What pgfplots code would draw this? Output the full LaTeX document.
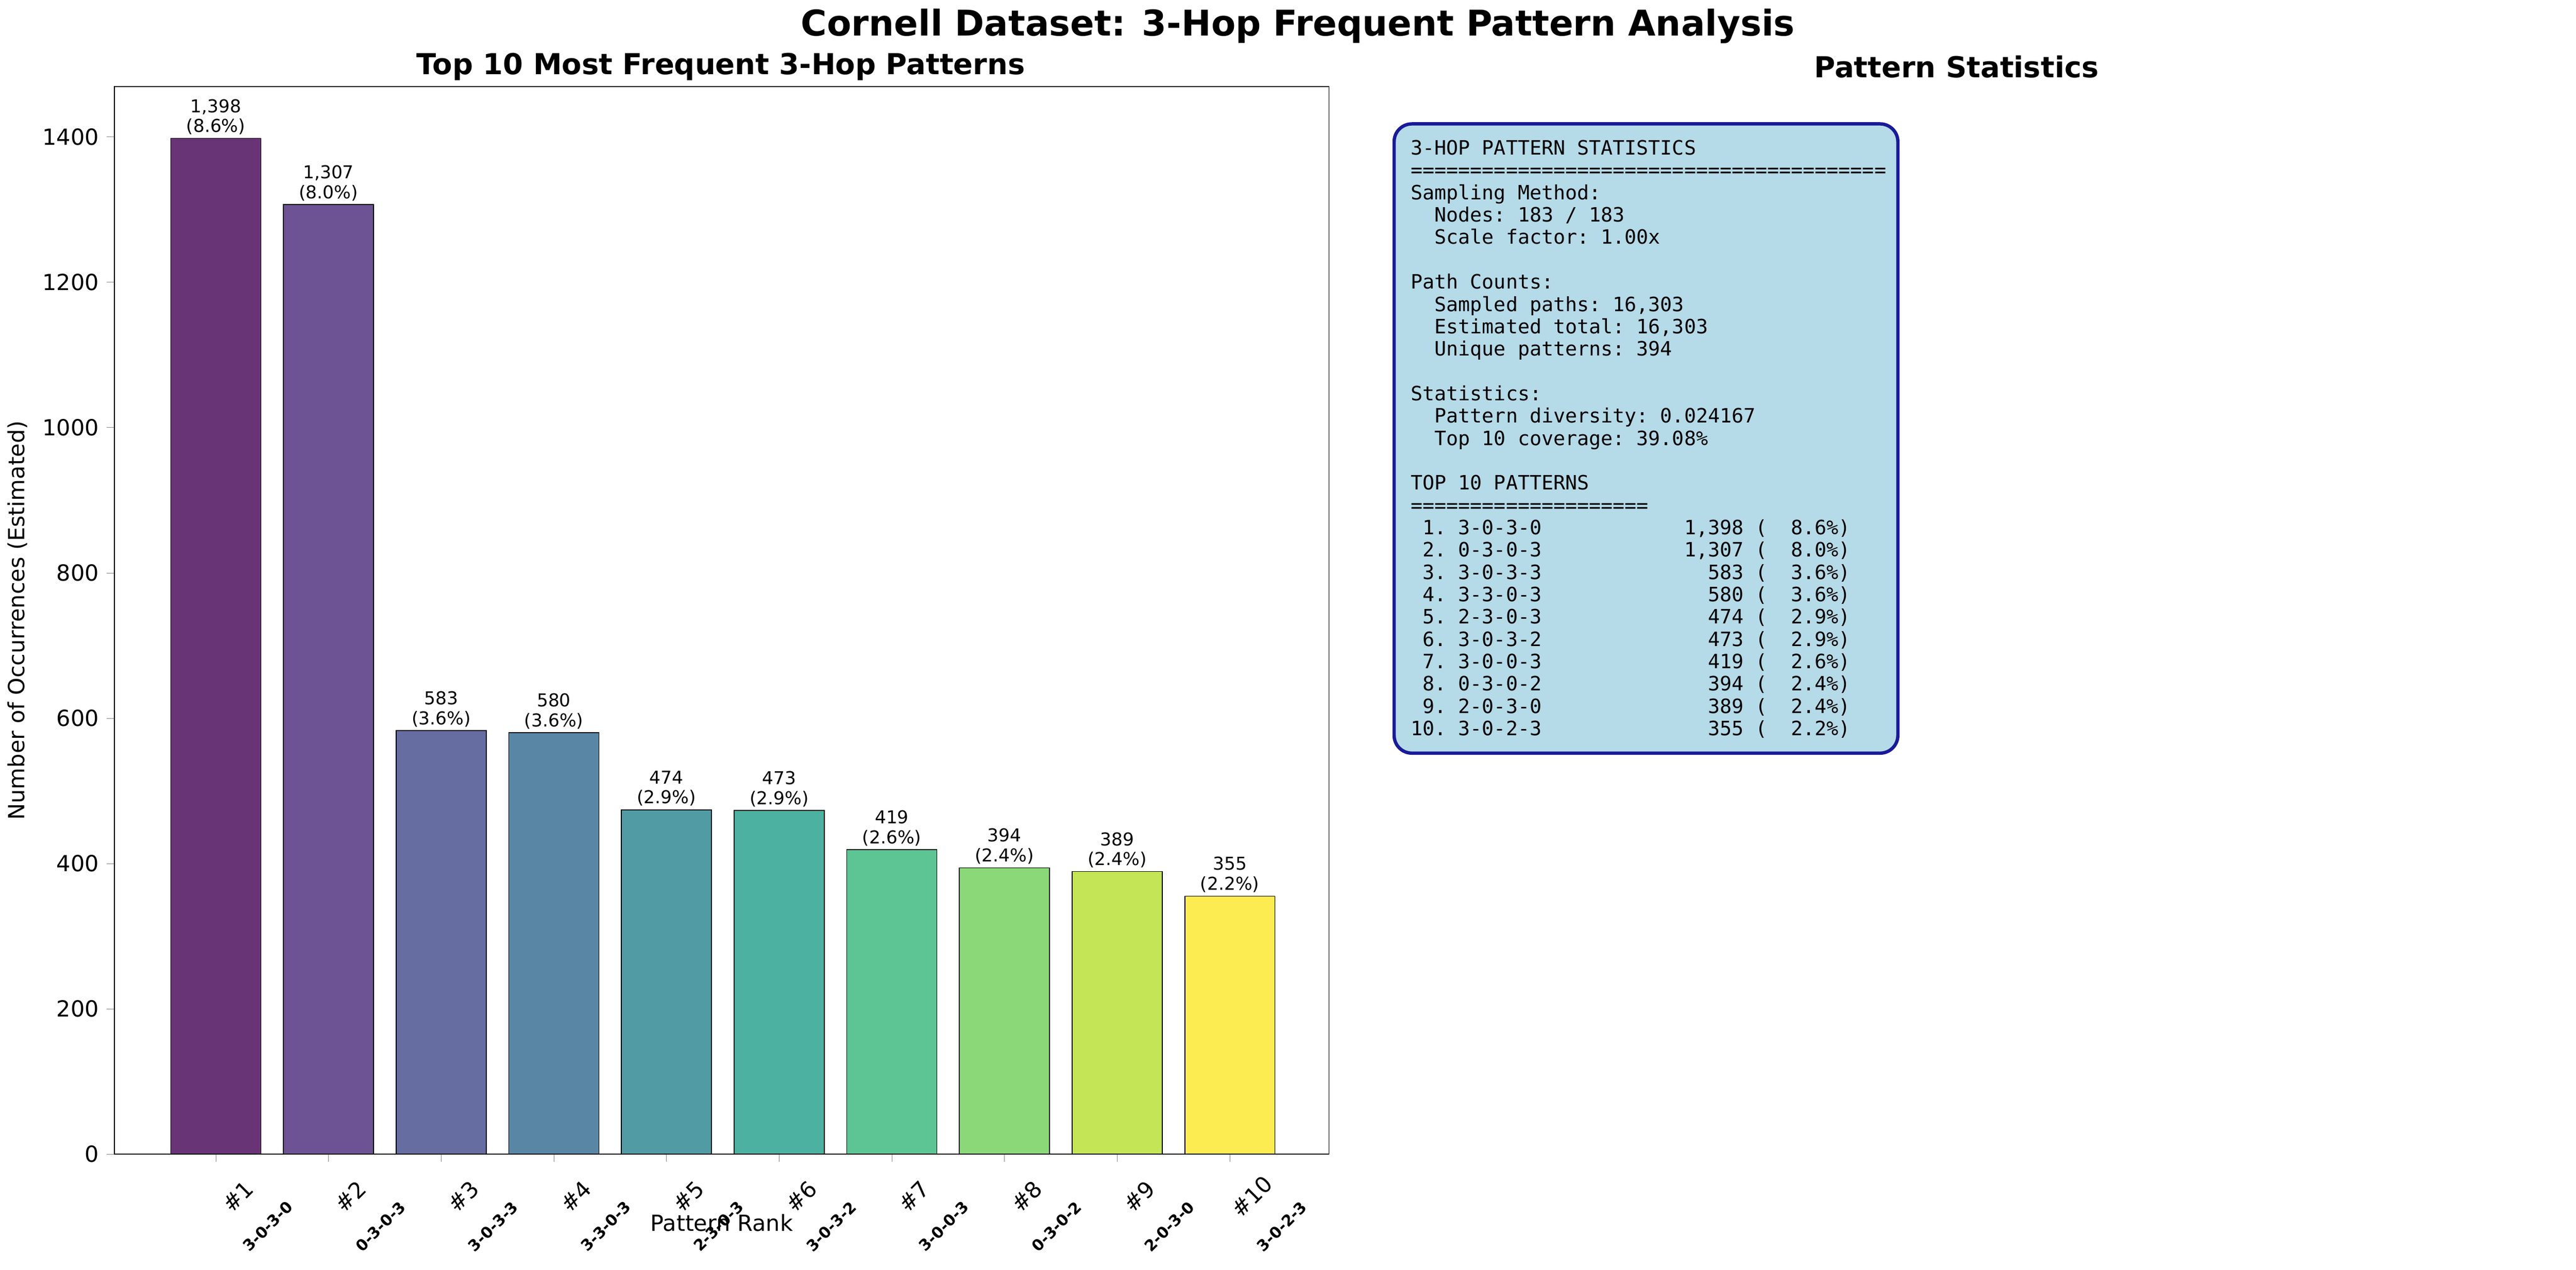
\documentclass[border=0pt]{standalone}
\usepackage{pgfplots}
\pgfplotsset{compat=1.18}
\usepackage{fontspec}
\setmainfont{DejaVu Sans}
\setmonofont{DejaVu Sans Mono}
\definecolor{c1}{HTML}{693476}
\definecolor{c2}{HTML}{6D5393}
\definecolor{c3}{HTML}{656DA1}
\definecolor{c4}{HTML}{5A86A5}
\definecolor{c5}{HTML}{519BA5}
\definecolor{c6}{HTML}{4CB1A1}
\definecolor{c7}{HTML}{5DC594}
\definecolor{c8}{HTML}{8BD879}
\definecolor{c9}{HTML}{C4E555}
\definecolor{c10}{HTML}{FDEC51}
\definecolor{boxfill}{HTML}{B5DAE8}
\definecolor{boxedge}{HTML}{1A1A99}
\def\s{\hphantom{0}}
\begin{document}
\begin{tikzpicture}
\begin{scope}[x=0.735pt,y=0.735pt]
\path (0,0) rectangle (1568,779);
\node[font=\fontsize{16}{19}\selectfont\bfseries] at (784,763) {Cornell Dataset: 3-Hop Frequent Pattern Analysis};
\node[font=\fontsize{13}{16}\selectfont\bfseries] at (430,738) {Top 10 Most Frequent 3-Hop Patterns};
\node[font=\fontsize{13}{16}\selectfont\bfseries] at (1188,738) {Pattern Statistics};
\end{scope}
\begin{axis}[at={(42.63pt,52.19pt)}, anchor=south west, scale only axis,
  width=547.6pt, height=481.4pt,
  xmin=-0.9, xmax=9.88, ymin=0, ymax=1469.5,
  ybar, bar width=0.8,
  xtick={0,...,9},
  xticklabels={{\#1\\\fontsize{7}{8}\selectfont\bfseries 3-0-3-0},{\#2\\\fontsize{7}{8}\selectfont\bfseries 0-3-0-3},{\#3\\\fontsize{7}{8}\selectfont\bfseries 3-0-3-3},{\#4\\\fontsize{7}{8}\selectfont\bfseries 3-3-0-3},{\#5\\\fontsize{7}{8}\selectfont\bfseries 2-3-0-3},{\#6\\\fontsize{7}{8}\selectfont\bfseries 3-0-3-2},{\#7\\\fontsize{7}{8}\selectfont\bfseries 3-0-0-3},{\#8\\\fontsize{7}{8}\selectfont\bfseries 0-3-0-2},{\#9\\\fontsize{7}{8}\selectfont\bfseries 2-0-3-0},{\#10\\\fontsize{7}{8}\selectfont\bfseries 3-0-2-3}},
  xticklabel style={rotate=45, align=center, anchor=center, xshift=-4pt, yshift=-27pt, font=\fontsize{10}{18}\selectfont},
  ytick={0,200,...,1400},
  yticklabel style={font=\fontsize{10}{12}\selectfont},
  /pgf/number format/assume math mode=true,
  scaled y ticks=false,
  yticklabel={\pgfmathprintnumber[1000 sep={}]{\tick}},
  tick align=outside, xtick pos=bottom, ytick pos=left,
  major tick length=3.5pt,
  ylabel={Number of Occurrences (Estimated)},
  ylabel style={font=\fontsize{10}{12}\selectfont},
  xlabel={Pattern Rank},
  xlabel style={font=\fontsize{10}{12}\selectfont, at={(axis description cs:0.5,0)}, anchor=center, yshift=-31pt},
  point meta=explicit symbolic,
  nodes near coords={\pgfplotspointmeta},
  every node near coord/.append style={font=\fontsize{8}{9}\selectfont, align=center, inner sep=1.5pt},
  bar shift=0pt,
]
\addplot[fill=c1,draw=black] coordinates {(0,1398) [{1,398\\(8.6\%)}]};
\addplot[fill=c2,draw=black] coordinates {(1,1307) [{1,307\\(8.0\%)}]};
\addplot[fill=c3,draw=black] coordinates {(2,583) [{583\\(3.6\%)}]};
\addplot[fill=c4,draw=black] coordinates {(3,580) [{580\\(3.6\%)}]};
\addplot[fill=c5,draw=black] coordinates {(4,474) [{474\\(2.9\%)}]};
\addplot[fill=c6,draw=black] coordinates {(5,473) [{473\\(2.9\%)}]};
\addplot[fill=c7,draw=black] coordinates {(6,419) [{419\\(2.6\%)}]};
\addplot[fill=c8,draw=black] coordinates {(7,394) [{394\\(2.4\%)}]};
\addplot[fill=c9,draw=black] coordinates {(8,389) [{389\\(2.4\%)}]};
\addplot[fill=c10,draw=black] coordinates {(9,355) [{355\\(2.2\%)}]};
\end{axis}
\begin{scope}[x=0.735pt,y=0.735pt]
\draw[boxedge, fill=boxfill, line width=1.5pt, rounded corners=8pt] (843,703) rectangle (1152,317);
\begin{scope}[every node/.style={anchor=base west, inner sep=0pt, font=\ttfamily\fontsize{8.9}{10}\selectfont}]
\node at (853,684.0) {3-HOP PATTERN STATISTICS};
\node at (853,670.3) {========================================};
\node at (853,656.6) {Sampling Method:};
\node at (853,642.9) {\s\s Nodes: 183 / 183};
\node at (853,629.2) {\s\s Scale factor: 1.00x};
\node at (853,601.8) {Path Counts:};
\node at (853,588.1) {\s\s Sampled paths: 16,303};
\node at (853,574.4) {\s\s Estimated total: 16,303};
\node at (853,560.7) {\s\s Unique patterns: 394};
\node at (853,533.3) {Statistics:};
\node at (853,519.6) {\s\s Pattern diversity: 0.024167};
\node at (853,505.9) {\s\s Top 10 coverage: 39.08\%};
\node at (853,478.5) {TOP 10 PATTERNS};
\node at (853,464.8) {====================};
\node at (853,451.1) {\s1. 3-0-3-0\s\s\s\s\s\s\s\s\s\s\s\s1,398 (\s\s8.6\%)};
\node at (853,437.4) {\s2. 0-3-0-3\s\s\s\s\s\s\s\s\s\s\s\s1,307 (\s\s8.0\%)};
\node at (853,423.7) {\s3. 3-0-3-3\s\s\s\s\s\s\s\s\s\s\s\s\s\s583 (\s\s3.6\%)};
\node at (853,410.0) {\s4. 3-3-0-3\s\s\s\s\s\s\s\s\s\s\s\s\s\s580 (\s\s3.6\%)};
\node at (853,396.3) {\s5. 2-3-0-3\s\s\s\s\s\s\s\s\s\s\s\s\s\s474 (\s\s2.9\%)};
\node at (853,382.6) {\s6. 3-0-3-2\s\s\s\s\s\s\s\s\s\s\s\s\s\s473 (\s\s2.9\%)};
\node at (853,368.9) {\s7. 3-0-0-3\s\s\s\s\s\s\s\s\s\s\s\s\s\s419 (\s\s2.6\%)};
\node at (853,355.2) {\s8. 0-3-0-2\s\s\s\s\s\s\s\s\s\s\s\s\s\s394 (\s\s2.4\%)};
\node at (853,341.5) {\s9. 2-0-3-0\s\s\s\s\s\s\s\s\s\s\s\s\s\s389 (\s\s2.4\%)};
\node at (853,327.8) {10. 3-0-2-3\s\s\s\s\s\s\s\s\s\s\s\s\s\s355 (\s\s2.2\%)};
\end{scope}
\end{scope}
\end{tikzpicture}
\end{document}
